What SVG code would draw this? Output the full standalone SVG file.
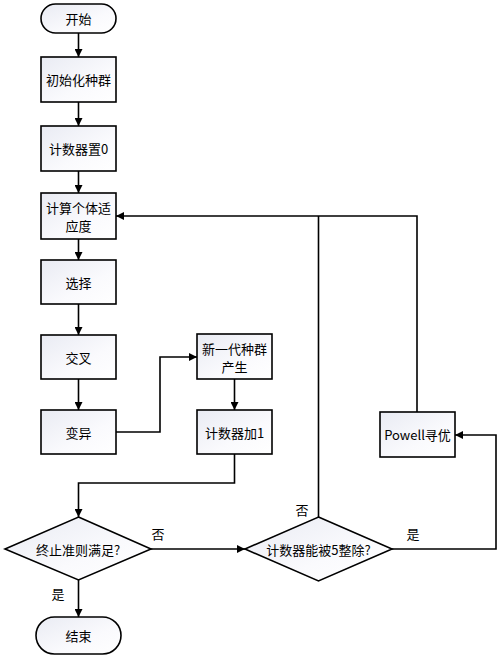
<svg xmlns="http://www.w3.org/2000/svg" width="500" height="659" viewBox="0 0 500 659">
<defs>
<linearGradient id="g" x1="0" y1="0" x2="1" y2="1">
<stop offset="0" stop-color="#e9ebf3"/>
<stop offset="0.6" stop-color="#fafafd"/>
<stop offset="1" stop-color="#ffffff"/>
</linearGradient>
<marker id="a" viewBox="0 0 10 10" refX="10" refY="5" markerWidth="8" markerHeight="8" markerUnits="userSpaceOnUse" orient="auto">
<path d="M0,0 L10,5 L0,10 z" fill="#000"/>
</marker>
</defs>
<style>
.s{fill:url(#g);stroke:#000;stroke-width:1.6}
.t{font-family:"Noto Sans CJK SC","Liberation Sans",sans-serif;font-size:13px;fill:#000;text-anchor:middle;dominant-baseline:central}
.l{font-family:"Noto Sans CJK SC",serif;font-size:13px;fill:#000;text-anchor:middle;dominant-baseline:central}
.c{fill:none;stroke:#000;stroke-width:1.6}
</style>
<rect width="500" height="659" fill="#fff"/>
<g id="connectors">
<path class="c" d="M78.5,33 V57" marker-end="url(#a)"/>
<path class="c" d="M78.5,102 V126" marker-end="url(#a)"/>
<path class="c" d="M78.5,171 V193" marker-end="url(#a)"/>
<path class="c" d="M78.5,239 V260" marker-end="url(#a)"/>
<path class="c" d="M78.5,304 V335" marker-end="url(#a)"/>
<path class="c" d="M78.5,379 V410" marker-end="url(#a)"/>
<path class="c" d="M116,432 H160 V357 H197" marker-end="url(#a)"/>
<path class="c" d="M234.5,379 V410" marker-end="url(#a)"/>
<path class="c" d="M234.5,454 V483 H78.5 V517" marker-end="url(#a)"/>
<path class="c" d="M151,549 H245" marker-end="url(#a)"/>
<path class="c" d="M78.5,580 V617" marker-end="url(#a)"/>
<path class="c" d="M392,549 H496 V435 H455" marker-end="url(#a)"/>
<path class="c" d="M318.5,517 V216"/>
<path class="c" d="M417,412 V216 H116" marker-end="url(#a)"/>
<text class="l" x="158" y="533">否</text>
<text class="l" x="302" y="509">否</text>
<text class="l" x="413" y="533">是</text>
<text class="l" x="58" y="593">是</text>
</g>
<g id="start"><rect class="s" x="41" y="4" width="75" height="29" rx="14.5"/><text class="t" x="78.5" y="18.5">开始</text></g>
<g id="init"><rect class="s" x="41" y="57" width="75" height="45"/><text class="t" x="78.5" y="79.5">初始化种群</text></g>
<g id="counter0"><rect class="s" x="41" y="126" width="75" height="45"/><text class="t" x="78.5" y="148.5">计数器置0</text></g>
<g id="fitness"><rect class="s" x="41" y="193" width="75" height="46"/><text class="t" x="78.5" y="207">计算个体适</text><text class="t" x="78.5" y="225">应度</text></g>
<g id="select"><rect class="s" x="41" y="260" width="75" height="44"/><text class="t" x="78.5" y="282">选择</text></g>
<g id="crossover"><rect class="s" x="41" y="335" width="75" height="44"/><text class="t" x="78.5" y="357">交叉</text></g>
<g id="mutation"><rect class="s" x="41" y="410" width="75" height="44"/><text class="t" x="78.5" y="432">变异</text></g>
<g id="newgen"><rect class="s" x="197" y="334" width="75" height="45"/><text class="t" x="234.5" y="348">新一代种群</text><text class="t" x="234.5" y="366">产生</text></g>
<g id="counterinc"><rect class="s" x="197" y="410" width="75" height="44"/><text class="t" x="234.5" y="432">计数器加1</text></g>
<g id="powell"><rect class="s" x="380" y="412" width="75" height="45"/><text class="t" x="417.5" y="434.5">Powell寻优</text></g>
<g id="terminate"><path class="s" d="M78.5,517 L151,549 L78.5,580 L5,549 z"/><text class="t" x="78" y="549">终止准则满足?</text></g>
<g id="divisible"><path class="s" d="M318.5,517 L392,549 L318.5,581 L245,549 z"/><text class="t" x="318.5" y="549">计数器能被5整除?</text></g>
<g id="end"><rect class="s" x="36" y="617" width="85" height="37" rx="18.5"/><text class="t" x="78.5" y="635.5">结束</text></g>
</svg>
